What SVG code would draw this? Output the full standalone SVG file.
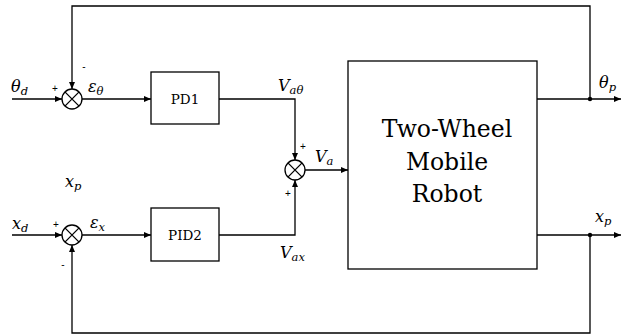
<svg xmlns="http://www.w3.org/2000/svg" width="622" height="335" viewBox="0 0 622 335">
<style>
.ln{fill:none;stroke:#000;stroke-width:1.3}
.bx{fill:#fff;stroke:#000;stroke-width:1.3}
.m{font-style:italic;font-size:16px;fill:#000}
.s{font-size:11.5px}
.sg{font-size:10px;fill:#000;text-anchor:middle}
.bt{font-size:13.5px;fill:#000;text-anchor:middle}
.rt{font-size:23.5px;fill:#000;text-anchor:middle}
.serif{font-family:'DejaVu Serif','Liberation Serif',serif}
</style>
<defs>
<marker id="ar" markerWidth="8" markerHeight="6" refX="7" refY="3" orient="auto" markerUnits="userSpaceOnUse">
<path d="M0,0 L7,3 L0,6 Z" fill="#000"/>
</marker>
</defs>
<g id="connectors">
<path class="ln" d="M12,99 H62" marker-end="url(#ar)"/>
<path class="ln" d="M82,99 H151" marker-end="url(#ar)"/>
<path class="ln" d="M219,99 H295 V160" marker-end="url(#ar)"/>
<path class="ln" d="M12,235 H62" marker-end="url(#ar)"/>
<path class="ln" d="M82,235 H151" marker-end="url(#ar)"/>
<path class="ln" d="M219,235 H295 V180" marker-end="url(#ar)"/>
<path class="ln" d="M305,170 H348" marker-end="url(#ar)"/>
<path class="ln" d="M537,99 H621" marker-end="url(#ar)"/>
<path class="ln" d="M537,235 H621" marker-end="url(#ar)"/>
<path class="ln" d="M590,99 V6 H72 V89" marker-end="url(#ar)"/>
<path class="ln" d="M590,235 V333 H72 V245" marker-end="url(#ar)"/>
<circle cx="590" cy="99" r="2.2" fill="#000"/>
<circle cx="590" cy="235" r="2.2" fill="#000"/>
</g>
<g id="sum1" font-family="Liberation Sans, Arial, sans-serif">
<circle class="bx" cx="72" cy="99" r="10"/>
<path class="ln" d="M64.9,91.9 L79.1,106.1 M79.1,91.9 L64.9,106.1"/>
<text class="sg" x="55" y="92">+</text>
<text class="sg" x="84" y="70">-</text>
</g>
<g id="sum2" font-family="Liberation Sans, Arial, sans-serif">
<circle class="bx" cx="295" cy="170" r="10"/>
<path class="ln" d="M287.9,162.9 L302.1,177.1 M302.1,162.9 L287.9,177.1"/>
<text class="sg" x="303" y="150">+</text>
<text class="sg" x="288" y="197">+</text>
</g>
<g id="sum3" font-family="Liberation Sans, Arial, sans-serif">
<circle class="bx" cx="72" cy="235" r="10"/>
<path class="ln" d="M64.9,227.9 L79.1,242.1 M79.1,227.9 L64.9,242.1"/>
<text class="sg" x="56" y="228">+</text>
<text class="sg" x="63" y="268">-</text>
</g>
<g id="pd1" class="serif">
<rect class="bx" x="151" y="72" width="68" height="52"/>
<text class="bt" x="185" y="104">PD1</text>
</g>
<g id="pid2" class="serif">
<rect class="bx" x="151" y="208" width="68" height="53"/>
<text class="bt" x="185" y="240">PID2</text>
</g>
<g id="robot" class="serif">
<rect class="bx" x="348" y="61" width="189" height="208"/>
<text class="rt" x="447" y="137">Two-Wheel</text>
<text class="rt" x="447" y="170">Mobile</text>
<text class="rt" x="447" y="202">Robot</text>
</g>
<g id="labels" class="serif">
<text class="m" x="11" y="92">θ<tspan class="s" dy="3">d</tspan></text>
<text class="m" x="88" y="92">ε<tspan class="s" dy="3">θ</tspan></text>
<text class="m" x="278" y="91">V<tspan class="s" dy="3">aθ</tspan></text>
<text class="m" x="315" y="162">V<tspan class="s" dy="3">a</tspan></text>
<text class="m" x="280" y="258">V<tspan class="s" dy="3">ax</tspan></text>
<text class="m" x="65" y="187">x<tspan class="s" dy="3">p</tspan></text>
<text class="m" x="12" y="229">x<tspan class="s" dy="3">d</tspan></text>
<text class="m" x="90" y="228">ε<tspan class="s" dy="3">x</tspan></text>
<text class="m" x="599" y="88">θ<tspan class="s" dy="3">p</tspan></text>
<text class="m" x="595" y="222">x<tspan class="s" dy="3">p</tspan></text>
</g>
</svg>
